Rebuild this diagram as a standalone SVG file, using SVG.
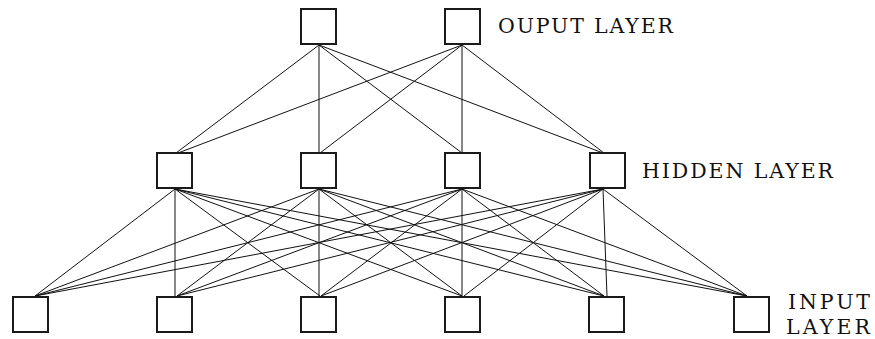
<svg xmlns="http://www.w3.org/2000/svg" width="875" height="339" viewBox="0 0 875 339">
  <style>
    .bg { fill: #ffffff; }
    .edge { stroke: #111111; stroke-width: 1; fill: none; }
    .unit { fill: #ffffff; stroke: #1a1a1a; stroke-width: 2; }
    .label { font-family: "DejaVu Serif", "Liberation Serif", serif; font-size: 20.5px; fill: #111111; }
  </style>
  <rect class="bg" x="0" y="0" width="875" height="339"/>

  <!-- connectors: output -> hidden (bottom of output to top of hidden) -->
  <g id="connectors">
    <line class="edge" x1="319" y1="45" x2="176" y2="153"/>
    <line class="edge" x1="319" y1="45" x2="319" y2="153"/>
    <line class="edge" x1="319" y1="45" x2="462" y2="153"/>
    <line class="edge" x1="319" y1="45" x2="603" y2="153"/>
    <line class="edge" x1="462" y1="45" x2="178" y2="153"/>
    <line class="edge" x1="462" y1="45" x2="320" y2="153"/>
    <line class="edge" x1="462" y1="45" x2="462" y2="153"/>
    <line class="edge" x1="462" y1="45" x2="604" y2="153"/>

    <!-- hidden -> input (bottom of hidden to top of input) -->
    <line class="edge" x1="175" y1="189" x2="35" y2="296"/>
    <line class="edge" x1="175" y1="189" x2="175" y2="296"/>
    <line class="edge" x1="175" y1="189" x2="320" y2="296"/>
    <line class="edge" x1="175" y1="189" x2="462" y2="296"/>
    <line class="edge" x1="175" y1="189" x2="604" y2="296"/>
    <line class="edge" x1="175" y1="189" x2="747" y2="296"/>

    <line class="edge" x1="319" y1="189" x2="35" y2="296"/>
    <line class="edge" x1="319" y1="189" x2="177" y2="296"/>
    <line class="edge" x1="319" y1="189" x2="319" y2="296"/>
    <line class="edge" x1="319" y1="189" x2="462" y2="296"/>
    <line class="edge" x1="319" y1="189" x2="604" y2="296"/>
    <line class="edge" x1="319" y1="189" x2="747" y2="296"/>

    <line class="edge" x1="462" y1="189" x2="35" y2="296"/>
    <line class="edge" x1="462" y1="189" x2="177" y2="296"/>
    <line class="edge" x1="462" y1="189" x2="321" y2="296"/>
    <line class="edge" x1="462" y1="189" x2="462" y2="296"/>
    <line class="edge" x1="462" y1="189" x2="604" y2="296"/>
    <line class="edge" x1="462" y1="189" x2="747" y2="296"/>

    <line class="edge" x1="603" y1="189" x2="35" y2="296"/>
    <line class="edge" x1="603" y1="189" x2="177" y2="296"/>
    <line class="edge" x1="603" y1="189" x2="321" y2="296"/>
    <line class="edge" x1="603" y1="189" x2="464" y2="296"/>
    <line class="edge" x1="603" y1="189" x2="607" y2="296"/>
    <line class="edge" x1="603" y1="189" x2="747" y2="296"/>
  </g>

  <!-- output layer -->
  <g id="out1"><rect class="unit" x="301" y="9" width="35" height="35"/></g>
  <g id="out2"><rect class="unit" x="445" y="9" width="35" height="35"/></g>

  <!-- hidden layer -->
  <g id="hid1"><rect class="unit" x="157" y="153" width="35" height="35"/></g>
  <g id="hid2"><rect class="unit" x="301" y="153" width="35" height="35"/></g>
  <g id="hid3"><rect class="unit" x="445" y="153" width="35" height="35"/></g>
  <g id="hid4"><rect class="unit" x="590" y="153" width="35" height="35"/></g>

  <!-- input layer -->
  <g id="in1"><rect class="unit" x="13" y="297" width="35" height="35"/></g>
  <g id="in2"><rect class="unit" x="157" y="297" width="35" height="35"/></g>
  <g id="in3"><rect class="unit" x="301" y="297" width="35" height="35"/></g>
  <g id="in4"><rect class="unit" x="445" y="297" width="35" height="35"/></g>
  <g id="in5"><rect class="unit" x="589" y="297" width="35" height="35"/></g>
  <g id="in6"><rect class="unit" x="734" y="297" width="35" height="35"/></g>

  <!-- layer captions -->
  <g id="captions">
    <text class="label" x="498" y="33" textLength="175" lengthAdjust="spacing">OUPUT LAYER</text>
    <text class="label" x="642" y="178" textLength="191" lengthAdjust="spacing">HIDDEN LAYER</text>
    <text class="label" x="788" y="309" textLength="82" lengthAdjust="spacing">INPUT</text>
    <text class="label" x="786" y="334" textLength="84" lengthAdjust="spacing">LAYER</text>
  </g>
</svg>
